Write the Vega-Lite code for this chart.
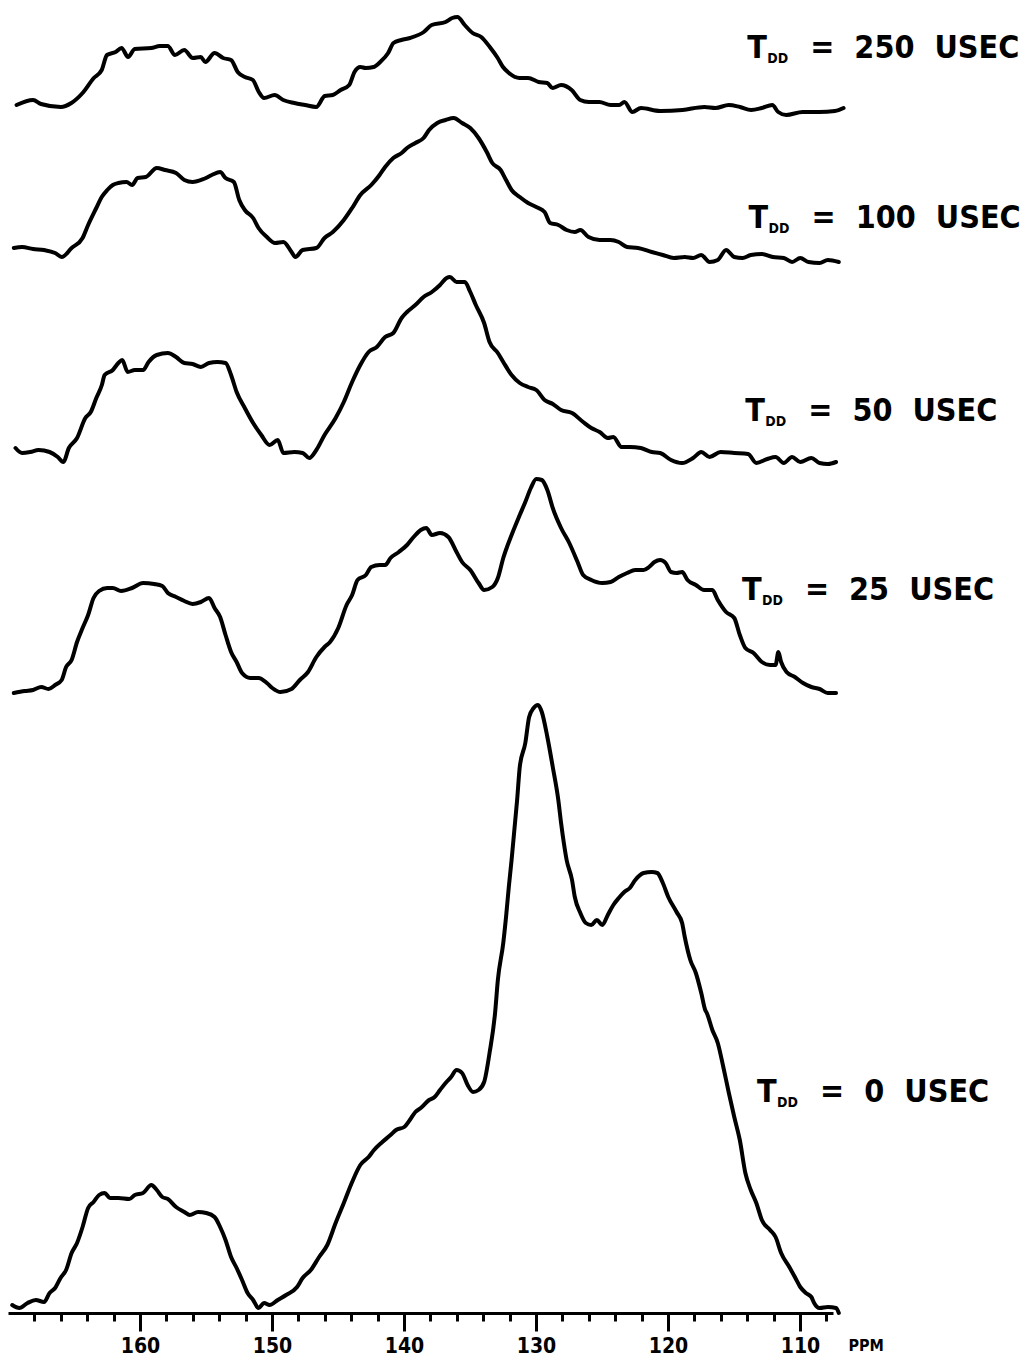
{
  "$schema": "https://vega.github.io/schema/vega-lite/v6.json",
  "width": 825,
  "height": 1313,
  "autosize": "none",
  "padding": {"left": 8, "top": 0, "right": 198, "bottom": 48},
  "background": "white",
  "config": {"view": {"stroke": null}},
  "datasets": {
    "spectra": [
      {"tau":"250","ppm":169.35,"v":1208},{"tau":"250","ppm":168.1,"v":1213},{"tau":"250","ppm":167.5,"v":1209},{"tau":"250","ppm":166.0,"v":1206},{"tau":"250","ppm":165.2,"v":1210},{"tau":"250","ppm":164.35,"v":1220},{"tau":"250","ppm":163.5,"v":1235},{"tau":"250","ppm":162.9,"v":1243},{"tau":"250","ppm":162.5,"v":1258},{"tau":"250","ppm":161.85,"v":1261},{"tau":"250","ppm":161.4,"v":1265},{"tau":"250","ppm":160.9,"v":1256},{"tau":"250","ppm":160.4,"v":1264},{"tau":"250","ppm":159.15,"v":1265},{"tau":"250","ppm":158.5,"v":1267},{"tau":"250","ppm":157.9,"v":1267},{"tau":"250","ppm":157.35,"v":1258},{"tau":"250","ppm":156.65,"v":1263},{"tau":"250","ppm":156.0,"v":1255},{"tau":"250","ppm":155.4,"v":1256},{"tau":"250","ppm":155.05,"v":1251},{"tau":"250","ppm":154.35,"v":1260},{"tau":"250","ppm":153.7,"v":1255},{"tau":"250","ppm":153.1,"v":1253},{"tau":"250","ppm":152.6,"v":1241},{"tau":"250","ppm":152.05,"v":1236},{"tau":"250","ppm":151.45,"v":1233},{"tau":"250","ppm":151.0,"v":1221},{"tau":"250","ppm":150.6,"v":1215},{"tau":"250","ppm":149.8,"v":1218},{"tau":"250","ppm":149.15,"v":1213},{"tau":"250","ppm":148.3,"v":1210},{"tau":"250","ppm":147.5,"v":1208},{"tau":"250","ppm":146.65,"v":1206},{"tau":"250","ppm":146.0,"v":1217},{"tau":"250","ppm":145.4,"v":1218},{"tau":"250","ppm":144.8,"v":1223},{"tau":"250","ppm":144.15,"v":1228},{"tau":"250","ppm":143.75,"v":1241},{"tau":"250","ppm":143.3,"v":1246},{"tau":"250","ppm":142.9,"v":1245},{"tau":"250","ppm":142.3,"v":1246},{"tau":"250","ppm":141.8,"v":1251},{"tau":"250","ppm":141.2,"v":1260},{"tau":"250","ppm":140.8,"v":1270},{"tau":"250","ppm":140.2,"v":1273},{"tau":"250","ppm":139.55,"v":1275},{"tau":"250","ppm":138.5,"v":1281},{"tau":"250","ppm":137.9,"v":1288},{"tau":"250","ppm":136.85,"v":1291},{"tau":"250","ppm":136.35,"v":1295},{"tau":"250","ppm":135.95,"v":1296},{"tau":"250","ppm":135.4,"v":1288},{"tau":"250","ppm":134.8,"v":1280},{"tau":"250","ppm":134.15,"v":1276},{"tau":"250","ppm":133.5,"v":1266},{"tau":"250","ppm":132.9,"v":1255},{"tau":"250","ppm":132.5,"v":1246},{"tau":"250","ppm":132.05,"v":1240},{"tau":"250","ppm":131.25,"v":1235},{"tau":"250","ppm":130.6,"v":1235},{"tau":"250","ppm":129.8,"v":1231},{"tau":"250","ppm":129.15,"v":1230},{"tau":"250","ppm":128.75,"v":1225},{"tau":"250","ppm":128.1,"v":1228},{"tau":"250","ppm":127.3,"v":1223},{"tau":"250","ppm":126.65,"v":1213},{"tau":"250","ppm":126.0,"v":1211},{"tau":"250","ppm":125.2,"v":1211},{"tau":"250","ppm":124.35,"v":1208},{"tau":"250","ppm":123.7,"v":1208},{"tau":"250","ppm":123.3,"v":1211},{"tau":"250","ppm":122.7,"v":1201},{"tau":"250","ppm":122.05,"v":1205},{"tau":"250","ppm":120.6,"v":1202},{"tau":"250","ppm":118.9,"v":1203},{"tau":"250","ppm":117.25,"v":1206},{"tau":"250","ppm":116.4,"v":1205},{"tau":"250","ppm":115.4,"v":1208},{"tau":"250","ppm":114.55,"v":1206},{"tau":"250","ppm":113.7,"v":1203},{"tau":"250","ppm":112.9,"v":1205},{"tau":"250","ppm":112.1,"v":1208},{"tau":"250","ppm":111.65,"v":1201},{"tau":"250","ppm":111.05,"v":1198},{"tau":"250","ppm":109.8,"v":1201},{"tau":"250","ppm":108.55,"v":1201},{"tau":"250","ppm":107.35,"v":1202},{"tau":"250","ppm":106.7,"v":1205},

      {"tau":"100","ppm":169.56,"v":1065},{"tau":"100","ppm":168.93,"v":1066},{"tau":"100","ppm":168.1,"v":1064},{"tau":"100","ppm":167.27,"v":1063},{"tau":"100","ppm":166.43,"v":1060},{"tau":"100","ppm":165.93,"v":1056},{"tau":"100","ppm":165.18,"v":1065},{"tau":"100","ppm":164.35,"v":1075},{"tau":"100","ppm":163.93,"v":1088},{"tau":"100","ppm":163.31,"v":1105},{"tau":"100","ppm":162.9,"v":1116},{"tau":"100","ppm":162.48,"v":1123},{"tau":"100","ppm":162.06,"v":1128},{"tau":"100","ppm":161.64,"v":1130},{"tau":"100","ppm":161.02,"v":1131},{"tau":"100","ppm":160.6,"v":1128},{"tau":"100","ppm":160.18,"v":1135},{"tau":"100","ppm":159.56,"v":1136},{"tau":"100","ppm":158.73,"v":1145},{"tau":"100","ppm":158.1,"v":1143},{"tau":"100","ppm":157.27,"v":1140},{"tau":"100","ppm":156.64,"v":1133},{"tau":"100","ppm":156.02,"v":1131},{"tau":"100","ppm":155.18,"v":1134},{"tau":"100","ppm":154.56,"v":1138},{"tau":"100","ppm":153.93,"v":1141},{"tau":"100","ppm":153.52,"v":1135},{"tau":"100","ppm":152.89,"v":1131},{"tau":"100","ppm":152.48,"v":1113},{"tau":"100","ppm":152.06,"v":1103},{"tau":"100","ppm":151.43,"v":1095},{"tau":"100","ppm":151.02,"v":1085},{"tau":"100","ppm":150.39,"v":1076},{"tau":"100","ppm":149.77,"v":1070},{"tau":"100","ppm":149.14,"v":1071},{"tau":"100","ppm":148.52,"v":1061},{"tau":"100","ppm":148.23,"v":1056},{"tau":"100","ppm":147.68,"v":1063},{"tau":"100","ppm":146.64,"v":1065},{"tau":"100","ppm":146.02,"v":1075},{"tau":"100","ppm":145.39,"v":1081},{"tau":"100","ppm":144.56,"v":1093},{"tau":"100","ppm":143.93,"v":1105},{"tau":"100","ppm":143.31,"v":1118},{"tau":"100","ppm":142.48,"v":1128},{"tau":"100","ppm":141.85,"v":1138},{"tau":"100","ppm":141.43,"v":1146},{"tau":"100","ppm":140.81,"v":1155},{"tau":"100","ppm":140.18,"v":1160},{"tau":"100","ppm":139.77,"v":1165},{"tau":"100","ppm":139.14,"v":1170},{"tau":"100","ppm":138.52,"v":1175},{"tau":"100","ppm":138.1,"v":1183},{"tau":"100","ppm":137.48,"v":1190},{"tau":"100","ppm":136.85,"v":1193},{"tau":"100","ppm":136.23,"v":1195},{"tau":"100","ppm":135.6,"v":1190},{"tau":"100","ppm":134.98,"v":1185},{"tau":"100","ppm":134.35,"v":1175},{"tau":"100","ppm":133.73,"v":1161},{"tau":"100","ppm":133.31,"v":1150},{"tau":"100","ppm":132.68,"v":1143},{"tau":"100","ppm":132.27,"v":1133},{"tau":"100","ppm":131.85,"v":1123},{"tau":"100","ppm":131.23,"v":1116},{"tau":"100","ppm":130.6,"v":1110},{"tau":"100","ppm":129.98,"v":1106},{"tau":"100","ppm":129.35,"v":1101},{"tau":"100","ppm":128.93,"v":1090},{"tau":"100","ppm":128.31,"v":1088},{"tau":"100","ppm":127.68,"v":1083},{"tau":"100","ppm":127.06,"v":1081},{"tau":"100","ppm":126.64,"v":1083},{"tau":"100","ppm":126.02,"v":1076},{"tau":"100","ppm":125.18,"v":1073},{"tau":"100","ppm":124.35,"v":1073},{"tau":"100","ppm":123.73,"v":1071},{"tau":"100","ppm":123.1,"v":1066},{"tau":"100","ppm":122.27,"v":1065},{"tau":"100","ppm":121.23,"v":1061},{"tau":"100","ppm":120.39,"v":1058},{"tau":"100","ppm":119.56,"v":1055},{"tau":"100","ppm":118.73,"v":1056},{"tau":"100","ppm":118.1,"v":1055},{"tau":"100","ppm":117.48,"v":1058},{"tau":"100","ppm":116.85,"v":1051},{"tau":"100","ppm":116.23,"v":1053},{"tau":"100","ppm":115.6,"v":1063},{"tau":"100","ppm":114.98,"v":1056},{"tau":"100","ppm":114.35,"v":1055},{"tau":"100","ppm":113.73,"v":1058},{"tau":"100","ppm":112.89,"v":1059},{"tau":"100","ppm":112.06,"v":1056},{"tau":"100","ppm":111.23,"v":1055},{"tau":"100","ppm":110.6,"v":1051},{"tau":"100","ppm":109.98,"v":1055},{"tau":"100","ppm":109.35,"v":1051},{"tau":"100","ppm":108.52,"v":1050},{"tau":"100","ppm":107.89,"v":1053},{"tau":"100","ppm":107.06,"v":1051},

      {"tau":"50","ppm":169.43,"v":865},{"tau":"50","ppm":168.93,"v":860},{"tau":"50","ppm":168.31,"v":861},{"tau":"50","ppm":167.68,"v":863},{"tau":"50","ppm":166.85,"v":861},{"tau":"50","ppm":166.23,"v":856},{"tau":"50","ppm":165.81,"v":851},{"tau":"50","ppm":165.39,"v":865},{"tau":"50","ppm":164.77,"v":875},{"tau":"50","ppm":164.14,"v":895},{"tau":"50","ppm":163.73,"v":901},{"tau":"50","ppm":163.31,"v":915},{"tau":"50","ppm":162.89,"v":928},{"tau":"50","ppm":162.68,"v":938},{"tau":"50","ppm":162.06,"v":943},{"tau":"50","ppm":161.64,"v":950},{"tau":"50","ppm":161.35,"v":953},{"tau":"50","ppm":160.93,"v":941},{"tau":"50","ppm":160.39,"v":943},{"tau":"50","ppm":159.77,"v":943},{"tau":"50","ppm":159.35,"v":951},{"tau":"50","ppm":158.73,"v":958},{"tau":"50","ppm":157.89,"v":960},{"tau":"50","ppm":157.27,"v":956},{"tau":"50","ppm":156.64,"v":950},{"tau":"50","ppm":156.02,"v":949},{"tau":"50","ppm":155.39,"v":946},{"tau":"50","ppm":154.77,"v":950},{"tau":"50","ppm":154.14,"v":951},{"tau":"50","ppm":153.52,"v":950},{"tau":"50","ppm":153.1,"v":938},{"tau":"50","ppm":152.68,"v":921},{"tau":"50","ppm":152.06,"v":905},{"tau":"50","ppm":151.43,"v":890},{"tau":"50","ppm":150.81,"v":878},{"tau":"50","ppm":150.18,"v":868},{"tau":"50","ppm":149.56,"v":873},{"tau":"50","ppm":149.14,"v":860},{"tau":"50","ppm":148.31,"v":861},{"tau":"50","ppm":147.68,"v":860},{"tau":"50","ppm":147.18,"v":855},{"tau":"50","ppm":146.64,"v":863},{"tau":"50","ppm":146.02,"v":878},{"tau":"50","ppm":145.18,"v":895},{"tau":"50","ppm":144.56,"v":911},{"tau":"50","ppm":143.93,"v":931},{"tau":"50","ppm":143.31,"v":948},{"tau":"50","ppm":142.68,"v":961},{"tau":"50","ppm":142.06,"v":966},{"tau":"50","ppm":141.43,"v":976},{"tau":"50","ppm":140.81,"v":980},{"tau":"50","ppm":140.18,"v":995},{"tau":"50","ppm":139.77,"v":1001},{"tau":"50","ppm":139.14,"v":1008},{"tau":"50","ppm":138.52,"v":1016},{"tau":"50","ppm":137.89,"v":1021},{"tau":"50","ppm":137.27,"v":1028},{"tau":"50","ppm":136.77,"v":1035},{"tau":"50","ppm":136.52,"v":1036},{"tau":"50","ppm":136.02,"v":1031},{"tau":"50","ppm":135.39,"v":1031},{"tau":"50","ppm":134.98,"v":1021},{"tau":"50","ppm":134.56,"v":1008},{"tau":"50","ppm":133.93,"v":990},{"tau":"50","ppm":133.52,"v":971},{"tau":"50","ppm":132.89,"v":960},{"tau":"50","ppm":132.48,"v":951},{"tau":"50","ppm":131.85,"v":938},{"tau":"50","ppm":131.23,"v":930},{"tau":"50","ppm":130.6,"v":926},{"tau":"50","ppm":129.98,"v":923},{"tau":"50","ppm":129.35,"v":913},{"tau":"50","ppm":128.73,"v":909},{"tau":"50","ppm":128.1,"v":903},{"tau":"50","ppm":127.27,"v":900},{"tau":"50","ppm":126.43,"v":891},{"tau":"50","ppm":125.81,"v":885},{"tau":"50","ppm":125.18,"v":881},{"tau":"50","ppm":124.56,"v":875},{"tau":"50","ppm":124.14,"v":876},{"tau":"50","ppm":123.52,"v":866},{"tau":"50","ppm":122.89,"v":866},{"tau":"50","ppm":122.06,"v":865},{"tau":"50","ppm":121.23,"v":861},{"tau":"50","ppm":120.6,"v":860},{"tau":"50","ppm":119.77,"v":853},{"tau":"50","ppm":118.93,"v":850},{"tau":"50","ppm":118.1,"v":855},{"tau":"50","ppm":117.48,"v":861},{"tau":"50","ppm":116.85,"v":856},{"tau":"50","ppm":116.02,"v":861},{"tau":"50","ppm":114.98,"v":860},{"tau":"50","ppm":113.93,"v":859},{"tau":"50","ppm":113.31,"v":850},{"tau":"50","ppm":112.48,"v":854},{"tau":"50","ppm":111.85,"v":856},{"tau":"50","ppm":111.23,"v":850},{"tau":"50","ppm":110.6,"v":856},{"tau":"50","ppm":109.98,"v":851},{"tau":"50","ppm":109.14,"v":855},{"tau":"50","ppm":108.52,"v":850},{"tau":"50","ppm":107.89,"v":849},{"tau":"50","ppm":107.27,"v":851},

      {"tau":"25","ppm":169.56,"v":620},{"tau":"25","ppm":168.73,"v":622},{"tau":"25","ppm":168.1,"v":623},{"tau":"25","ppm":167.48,"v":626},{"tau":"25","ppm":166.93,"v":624},{"tau":"25","ppm":166.43,"v":628},{"tau":"25","ppm":165.93,"v":633},{"tau":"25","ppm":165.6,"v":646},{"tau":"25","ppm":165.18,"v":653},{"tau":"25","ppm":164.77,"v":671},{"tau":"25","ppm":164.35,"v":685},{"tau":"25","ppm":163.93,"v":698},{"tau":"25","ppm":163.52,"v":715},{"tau":"25","ppm":163.1,"v":722},{"tau":"25","ppm":162.48,"v":725},{"tau":"25","ppm":162.06,"v":725},{"tau":"25","ppm":161.43,"v":722},{"tau":"25","ppm":160.6,"v":725},{"tau":"25","ppm":159.77,"v":730},{"tau":"25","ppm":158.93,"v":729},{"tau":"25","ppm":158.31,"v":727},{"tau":"25","ppm":157.89,"v":720},{"tau":"25","ppm":157.27,"v":716},{"tau":"25","ppm":156.64,"v":712},{"tau":"25","ppm":156.02,"v":709},{"tau":"25","ppm":155.39,"v":711},{"tau":"25","ppm":154.77,"v":715},{"tau":"25","ppm":154.35,"v":705},{"tau":"25","ppm":153.93,"v":696},{"tau":"25","ppm":153.52,"v":678},{"tau":"25","ppm":153.1,"v":661},{"tau":"25","ppm":152.68,"v":651},{"tau":"25","ppm":152.27,"v":640},{"tau":"25","ppm":151.64,"v":635},{"tau":"25","ppm":151.02,"v":635},{"tau":"25","ppm":150.39,"v":630},{"tau":"25","ppm":149.98,"v":625},{"tau":"25","ppm":149.35,"v":621},{"tau":"25","ppm":148.52,"v":624},{"tau":"25","ppm":147.89,"v":633},{"tau":"25","ppm":147.27,"v":641},{"tau":"25","ppm":146.64,"v":656},{"tau":"25","ppm":146.02,"v":666},{"tau":"25","ppm":145.6,"v":671},{"tau":"25","ppm":144.98,"v":685},{"tau":"25","ppm":144.35,"v":708},{"tau":"25","ppm":143.93,"v":718},{"tau":"25","ppm":143.52,"v":733},{"tau":"25","ppm":142.89,"v":738},{"tau":"25","ppm":142.48,"v":746},{"tau":"25","ppm":141.85,"v":748},{"tau":"25","ppm":141.43,"v":748},{"tau":"25","ppm":141.02,"v":755},{"tau":"25","ppm":140.39,"v":761},{"tau":"25","ppm":139.77,"v":768},{"tau":"25","ppm":139.27,"v":776},{"tau":"25","ppm":138.73,"v":783},{"tau":"25","ppm":138.31,"v":785},{"tau":"25","ppm":137.89,"v":778},{"tau":"25","ppm":137.27,"v":780},{"tau":"25","ppm":136.64,"v":776},{"tau":"25","ppm":136.02,"v":761},{"tau":"25","ppm":135.6,"v":751},{"tau":"25","ppm":134.98,"v":743},{"tau":"25","ppm":134.35,"v":730},{"tau":"25","ppm":133.93,"v":723},{"tau":"25","ppm":133.31,"v":726},{"tau":"25","ppm":132.89,"v":735},{"tau":"25","ppm":132.48,"v":755},{"tau":"25","ppm":131.85,"v":778},{"tau":"25","ppm":131.23,"v":798},{"tau":"25","ppm":130.81,"v":811},{"tau":"25","ppm":130.39,"v":825},{"tau":"25","ppm":129.98,"v":834},{"tau":"25","ppm":129.56,"v":833},{"tau":"25","ppm":129.14,"v":823},{"tau":"25","ppm":128.73,"v":805},{"tau":"25","ppm":128.1,"v":785},{"tau":"25","ppm":127.48,"v":770},{"tau":"25","ppm":126.85,"v":751},{"tau":"25","ppm":126.43,"v":738},{"tau":"25","ppm":125.81,"v":733},{"tau":"25","ppm":124.98,"v":730},{"tau":"25","ppm":124.35,"v":731},{"tau":"25","ppm":123.73,"v":736},{"tau":"25","ppm":123.1,"v":740},{"tau":"25","ppm":122.48,"v":743},{"tau":"25","ppm":121.85,"v":743},{"tau":"25","ppm":121.43,"v":746},{"tau":"25","ppm":121.02,"v":751},{"tau":"25","ppm":120.6,"v":753},{"tau":"25","ppm":120.18,"v":750},{"tau":"25","ppm":119.77,"v":741},{"tau":"25","ppm":119.35,"v":740},{"tau":"25","ppm":118.93,"v":741},{"tau":"25","ppm":118.52,"v":733},{"tau":"25","ppm":117.89,"v":728},{"tau":"25","ppm":117.27,"v":723},{"tau":"25","ppm":116.64,"v":723},{"tau":"25","ppm":116.23,"v":713},{"tau":"25","ppm":115.6,"v":701},{"tau":"25","ppm":114.98,"v":695},{"tau":"25","ppm":114.56,"v":678},{"tau":"25","ppm":114.14,"v":665},{"tau":"25","ppm":113.52,"v":660},{"tau":"25","ppm":112.89,"v":651},{"tau":"25","ppm":112.27,"v":648},{"tau":"25","ppm":111.85,"v":648},{"tau":"25","ppm":111.64,"v":661},{"tau":"25","ppm":111.43,"v":651},{"tau":"25","ppm":111.02,"v":641},{"tau":"25","ppm":110.39,"v":636},{"tau":"25","ppm":109.77,"v":630},{"tau":"25","ppm":109.14,"v":626},{"tau":"25","ppm":108.52,"v":624},{"tau":"25","ppm":107.89,"v":620},{"tau":"25","ppm":107.27,"v":620},

      {"tau":"0","ppm":169.68,"v":8},{"tau":"0","ppm":169.14,"v":5},{"tau":"0","ppm":168.52,"v":10},{"tau":"0","ppm":167.89,"v":13},{"tau":"0","ppm":167.27,"v":11},{"tau":"0","ppm":166.85,"v":20},{"tau":"0","ppm":166.43,"v":25},{"tau":"0","ppm":166.02,"v":35},{"tau":"0","ppm":165.6,"v":43},{"tau":"0","ppm":165.18,"v":60},{"tau":"0","ppm":164.77,"v":70},{"tau":"0","ppm":164.35,"v":86},{"tau":"0","ppm":163.93,"v":105},{"tau":"0","ppm":163.52,"v":111},{"tau":"0","ppm":163.1,"v":118},{"tau":"0","ppm":162.68,"v":120},{"tau":"0","ppm":162.27,"v":115},{"tau":"0","ppm":161.64,"v":115},{"tau":"0","ppm":160.81,"v":114},{"tau":"0","ppm":160.39,"v":118},{"tau":"0","ppm":159.77,"v":120},{"tau":"0","ppm":159.14,"v":128},{"tau":"0","ppm":158.73,"v":123},{"tau":"0","ppm":158.31,"v":116},{"tau":"0","ppm":157.89,"v":114},{"tau":"0","ppm":157.27,"v":106},{"tau":"0","ppm":156.64,"v":101},{"tau":"0","ppm":156.23,"v":98},{"tau":"0","ppm":155.6,"v":101},{"tau":"0","ppm":154.98,"v":100},{"tau":"0","ppm":154.35,"v":96},{"tau":"0","ppm":153.93,"v":86},{"tau":"0","ppm":153.52,"v":73},{"tau":"0","ppm":153.1,"v":56},{"tau":"0","ppm":152.68,"v":45},{"tau":"0","ppm":152.27,"v":33},{"tau":"0","ppm":151.85,"v":20},{"tau":"0","ppm":151.43,"v":13},{"tau":"0","ppm":151.02,"v":5},{"tau":"0","ppm":150.6,"v":10},{"tau":"0","ppm":150.18,"v":8},{"tau":"0","ppm":149.56,"v":13},{"tau":"0","ppm":148.93,"v":18},{"tau":"0","ppm":148.1,"v":26},{"tau":"0","ppm":147.68,"v":35},{"tau":"0","ppm":147.06,"v":43},{"tau":"0","ppm":146.43,"v":56},{"tau":"0","ppm":145.81,"v":68},{"tau":"0","ppm":145.18,"v":90},{"tau":"0","ppm":144.56,"v":110},{"tau":"0","ppm":143.93,"v":131},{"tau":"0","ppm":143.31,"v":148},{"tau":"0","ppm":142.68,"v":156},{"tau":"0","ppm":142.27,"v":163},{"tau":"0","ppm":141.64,"v":171},{"tau":"0","ppm":141.02,"v":178},{"tau":"0","ppm":140.6,"v":183},{"tau":"0","ppm":139.98,"v":186},{"tau":"0","ppm":139.56,"v":193},{"tau":"0","ppm":139.14,"v":201},{"tau":"0","ppm":138.73,"v":205},{"tau":"0","ppm":138.1,"v":213},{"tau":"0","ppm":137.68,"v":216},{"tau":"0","ppm":137.27,"v":223},{"tau":"0","ppm":136.85,"v":230},{"tau":"0","ppm":136.43,"v":236},{"tau":"0","ppm":136.02,"v":243},{"tau":"0","ppm":135.6,"v":240},{"tau":"0","ppm":135.18,"v":228},{"tau":"0","ppm":134.77,"v":221},{"tau":"0","ppm":134.35,"v":223},{"tau":"0","ppm":133.93,"v":231},{"tau":"0","ppm":133.52,"v":260},{"tau":"0","ppm":133.1,"v":300},{"tau":"0","ppm":132.89,"v":333},{"tau":"0","ppm":132.48,"v":370},{"tau":"0","ppm":132.27,"v":396},{"tau":"0","ppm":132.06,"v":426},{"tau":"0","ppm":131.85,"v":453},{"tau":"0","ppm":131.64,"v":483},{"tau":"0","ppm":131.43,"v":513},{"tau":"0","ppm":131.23,"v":546},{"tau":"0","ppm":130.81,"v":570},{"tau":"0","ppm":130.52,"v":596},{"tau":"0","ppm":130.18,"v":605},{"tau":"0","ppm":129.85,"v":608},{"tau":"0","ppm":129.56,"v":601},{"tau":"0","ppm":129.14,"v":576},{"tau":"0","ppm":128.73,"v":546},{"tau":"0","ppm":128.31,"v":513},{"tau":"0","ppm":128.1,"v":490},{"tau":"0","ppm":127.89,"v":470},{"tau":"0","ppm":127.68,"v":453},{"tau":"0","ppm":127.27,"v":433},{"tau":"0","ppm":127.06,"v":416},{"tau":"0","ppm":126.64,"v":400},{"tau":"0","ppm":126.23,"v":390},{"tau":"0","ppm":125.81,"v":388},{"tau":"0","ppm":125.39,"v":393},{"tau":"0","ppm":124.98,"v":388},{"tau":"0","ppm":124.56,"v":398},{"tau":"0","ppm":124.14,"v":408},{"tau":"0","ppm":123.73,"v":415},{"tau":"0","ppm":123.31,"v":421},{"tau":"0","ppm":122.89,"v":425},{"tau":"0","ppm":122.48,"v":433},{"tau":"0","ppm":121.85,"v":440},{"tau":"0","ppm":121.23,"v":441},{"tau":"0","ppm":120.81,"v":440},{"tau":"0","ppm":120.39,"v":430},{"tau":"0","ppm":119.98,"v":416},{"tau":"0","ppm":119.35,"v":401},{"tau":"0","ppm":118.93,"v":390},{"tau":"0","ppm":118.73,"v":376},{"tau":"0","ppm":118.31,"v":353},{"tau":"0","ppm":117.89,"v":340},{"tau":"0","ppm":117.48,"v":320},{"tau":"0","ppm":117.18,"v":303},{"tau":"0","ppm":117.06,"v":300},{"tau":"0","ppm":116.64,"v":283},{"tau":"0","ppm":116.23,"v":270},{"tau":"0","ppm":115.81,"v":246},{"tau":"0","ppm":115.39,"v":220},{"tau":"0","ppm":114.98,"v":196},{"tau":"0","ppm":114.56,"v":173},{"tau":"0","ppm":114.14,"v":140},{"tau":"0","ppm":113.73,"v":123},{"tau":"0","ppm":113.31,"v":110},{"tau":"0","ppm":112.89,"v":93},{"tau":"0","ppm":112.27,"v":83},{"tau":"0","ppm":111.85,"v":76},{"tau":"0","ppm":111.43,"v":60},{"tau":"0","ppm":110.81,"v":46},{"tau":"0","ppm":110.39,"v":36},{"tau":"0","ppm":109.98,"v":26},{"tau":"0","ppm":109.56,"v":20},{"tau":"0","ppm":109.14,"v":16},{"tau":"0","ppm":108.93,"v":10},{"tau":"0","ppm":108.52,"v":5},{"tau":"0","ppm":107.89,"v":6},{"tau":"0","ppm":107.27,"v":5},{"tau":"0","ppm":107.06,"v":0}
    ],
    "labels": [
      {"tau":"250","ppm":114.0,"v":1255,"text":"=\u00a0\u00a0250\u00a0\u00a0USEC"},
      {"tau":"100","ppm":113.9,"v":1085,"text":"=\u00a0\u00a0100\u00a0\u00a0USEC"},
      {"tau":"50","ppm":114.15,"v":892,"text":"=\u00a0\u00a050\u00a0\u00a0USEC"},
      {"tau":"25","ppm":114.4,"v":713,"text":"=\u00a0\u00a025\u00a0\u00a0USEC"},
      {"tau":"0","ppm":113.25,"v":211,"text":"=\u00a0\u00a00\u00a0\u00a0USEC"}
    ]
  },
  "encoding": {
    "x": {
      "field": "ppm", "type": "quantitative",
      "scale": {"domain": [107.5, 170], "reverse": true, "nice": false, "zero": false},
      "axis": {
        "values": [108,110,112,114,116,118,120,122,124,126,128,130,132,134,136,138,140,142,144,146,148,150,152,154,156,158,160,162,164,166,168],
        "labelExpr": "datum.value % 10 === 0 ? datum.label : ''",
        "grid": false,
        "domainColor": "black", "domainWidth": 3,
        "tickColor": "black", "tickWidth": 3,
        "tickSize": {"condition": {"test": "datum.value % 10 === 0", "value": 18}, "value": 8},
        "labelPadding": 4,
        "labelFont": "DejaVu Sans Condensed", "labelFontWeight": "bold", "labelFontSize": 21, "labelColor": "black",
        "labelFlush": false,
        "title": "PPM", "titleFont": "DejaVu Sans Condensed", "titleFontWeight": "bold", "titleFontSize": 16, "titleColor": "black",
        "titleX": 840, "titleY": 32, "titleAlign": "left", "titleBaseline": "middle", "titleAngle": 0
      }
    },
    "y": {"field": "v", "type": "quantitative", "scale": {"domain": [0, 1313], "nice": false, "zero": false}, "axis": null}
  },
  "layer": [
    {
      "data": {"name": "spectra"},
      "mark": {"type": "line", "color": "black", "strokeWidth": 4, "strokeJoin": "round", "strokeCap": "round", "interpolate": "monotone"},
      "encoding": {
        "detail": {"field": "tau"}
      }
    },
    {
      "data": {"name": "labels"},
      "mark": {"type": "text", "align": "left", "baseline": "alphabetic", "font": "DejaVu Sans Condensed", "fontWeight": "bold", "fontSize": 32, "color": "black"},
      "encoding": {
        "text": {"value": "T"}
      }
    },
    {
      "data": {"name": "labels"},
      "mark": {"type": "text", "align": "left", "baseline": "alphabetic", "font": "DejaVu Sans Condensed", "fontWeight": "bold", "fontSize": 14, "dx": 20, "dy": 5, "color": "black"},
      "encoding": {
        "text": {"value": "DD"}
      }
    },
    {
      "data": {"name": "labels"},
      "mark": {"type": "text", "align": "left", "baseline": "alphabetic", "font": "DejaVu Sans Condensed", "fontWeight": "bold", "fontSize": 32, "dx": 63, "color": "black"},
      "encoding": {
        "text": {"field": "text"}
      }
    }
  ]
}
